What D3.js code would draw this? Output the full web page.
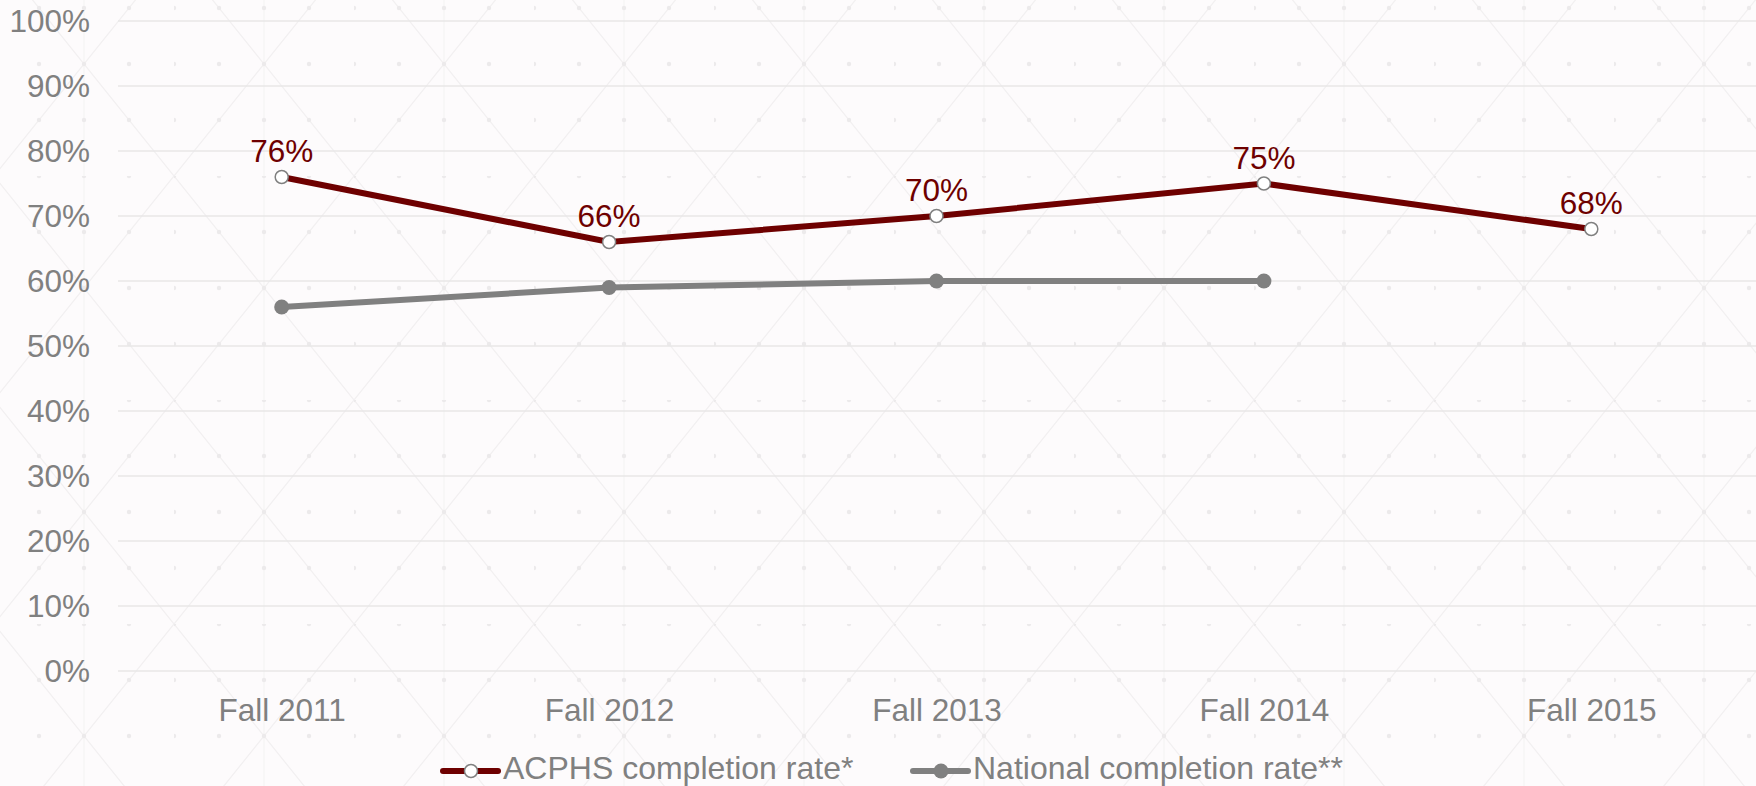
<!DOCTYPE html>
<html>
<head>
<meta charset="utf-8">
<script src="https://d3js.org/d3.v7.min.js"></script>
<style>
	html, body { margin: 0; padding: 0; background: #fdfbfc; }
	svg { display: block; }
	text { font-family: "Liberation Sans", Arial, sans-serif; }
</style>
</head>
<body>
<div id="chart"></div>
<script>
const categories = ["Fall 2011", "Fall 2012", "Fall 2013", "Fall 2014", "Fall 2015"];
const acphsRate = [0.76, 0.66, 0.70, 0.75, 0.68];
const nationalRate = [0.56, 0.59, 0.60, 0.60, null];
const yTicks = [0, 0.1, 0.2, 0.3, 0.4, 0.5, 0.6, 0.7, 0.8, 0.9, 1.0];
const seriesNames = ["ACPHS completion rate*", "National completion rate**"];

const width = 1756;
const height = 786;
const margin = { top: 21, right: 1, bottom: 115, left: 118 };

const red = '#6e0000';
const grey = '#808080';

const svg = d3.select('#chart').append('svg')
	.attr('width', width)
	.attr('height', height);

// faint decorative backdrop
const defs = svg.append('defs');
const pat = defs.append('pattern')
	.attr('id', 'bg')
	.attr('patternUnits', 'userSpaceOnUse')
	.attr('width', 180)
	.attr('height', 224)
	.attr('patternTransform', 'translate(-6,-48)');
pat.append('path')
	.attr('d', 'M0,0L180,224M180,0L0,224')
	.attr('stroke', '#f2f0f1')
	.attr('stroke-width', 1.3)
	.attr('fill', 'none');
pat.append('path')
	.attr('d', 'M90,0V224')
	.attr('stroke', '#f6f4f5')
	.attr('stroke-width', 1.3)
	.attr('fill', 'none');
for (let i = 0; i < 4; i++) {
	for (let j = 0; j < 4; j++) {
		pat.append('circle')
			.attr('cx', i * 45)
			.attr('cy', j * 56)
			.attr('r', 2.2)
			.attr('fill', '#eceaeb');
	}
}

svg.append('rect')
	.attr('width', width)
	.attr('height', height)
	.attr('fill', '#fdfbfc');
svg.append('rect')
	.attr('width', width)
	.attr('height', height)
	.attr('fill', 'url(#bg)');

const x = d3.scalePoint()
	.domain(categories)
	.range([margin.left, width - margin.right])
	.padding(0.5);

const y = d3.scaleLinear()
	.domain([0, 1])
	.range([height - margin.bottom, margin.top]);

// gridlines
svg.append('g')
	.selectAll('line')
	.data(yTicks)
	.enter()
	.append('line')
		.attr('x1', margin.left)
		.attr('x2', width)
		.attr('y1', d => y(d))
		.attr('y2', d => y(d))
		.attr('stroke', '#e8e7e7')
		.attr('stroke-width', 1.5);

// y axis
const yAxis = d3.axisLeft(y)
	.tickValues(yTicks)
	.tickFormat(d3.format('.0%'))
	.tickSize(0)
	.tickPadding(0);

svg.append('g')
	.attr('transform', `translate(90, 0)`)
	.call(yAxis)
	.call(g => g.select('.domain').remove())
	.selectAll('text')
		.attr('fill', grey)
		.attr('font-size', 31.5)
		.attr('font-family', '"Liberation Sans", Arial, sans-serif');

// x axis
const xAxis = d3.axisBottom(x)
	.tickSize(0)
	.tickPadding(0);

svg.append('g')
	.attr('transform', `translate(0, 721)`)
	.call(xAxis)
	.call(g => g.select('.domain').remove())
	.selectAll('text')
		.attr('dy', 0)
		.attr('fill', grey)
		.attr('font-size', 31.5)
		.attr('font-family', '"Liberation Sans", Arial, sans-serif');

// lines
const line = d3.line()
	.defined(d => d[1] != null)
	.x(d => x(d[0]))
	.y(d => y(d[1]));

const nationalData = categories.map((c, i) => [c, nationalRate[i]]);
const acphsData = categories.map((c, i) => [c, acphsRate[i]]);

svg.append('path')
	.datum(nationalData)
	.attr('d', line)
	.attr('fill', 'none')
	.attr('stroke', grey)
	.attr('stroke-width', 6);

svg.append('g')
	.selectAll('circle')
	.data(nationalData.filter(d => d[1] != null))
	.enter()
	.append('circle')
		.attr('cx', d => x(d[0]))
		.attr('cy', d => y(d[1]))
		.attr('r', 7.5)
		.attr('fill', grey);

svg.append('path')
	.datum(acphsData)
	.attr('d', line)
	.attr('fill', 'none')
	.attr('stroke', red)
	.attr('stroke-width', 6);

svg.append('g')
	.selectAll('circle')
	.data(acphsData)
	.enter()
	.append('circle')
		.attr('cx', d => x(d[0]))
		.attr('cy', d => y(d[1]))
		.attr('r', 6.5)
		.attr('fill', '#ffffff')
		.attr('stroke', grey)
		.attr('stroke-width', 1.5);

// data labels
svg.append('g')
	.selectAll('text')
	.data(acphsData)
	.enter()
	.append('text')
		.attr('x', d => x(d[0]))
		.attr('y', d => y(d[1]) - 15)
		.attr('text-anchor', 'middle')
		.attr('fill', red)
		.attr('font-size', 31.5)
		.text(d => d3.format('.0%')(d[1]));

// legend
const legend = svg.append('g')
	.attr('transform', 'translate(0, 771)');

const legendItems = [
	{ name: seriesNames[0], color: red, x0: 443, hollow: true },
	{ name: seriesNames[1], color: grey, x0: 913, hollow: false }
];

legendItems.forEach(item => {
	const g = legend.append('g').attr('transform', `translate(${item.x0}, 0)`);
	g.append('line')
		.attr('x1', 0)
		.attr('x2', 55)
		.attr('stroke', item.color)
		.attr('stroke-width', 6)
		.attr('stroke-linecap', 'round');
	g.append('circle')
		.attr('cx', 28)
		.attr('r', item.hollow ? 6.5 : 7.5)
		.attr('fill', item.hollow ? '#ffffff' : item.color)
		.attr('stroke', item.hollow ? grey : 'none')
		.attr('stroke-width', 1.5);
	g.append('text')
		.attr('x', 60)
		.attr('y', 8)
		.attr('fill', grey)
		.attr('font-size', 32)
		.text(item.name);
});
</script>
</body>
</html>
